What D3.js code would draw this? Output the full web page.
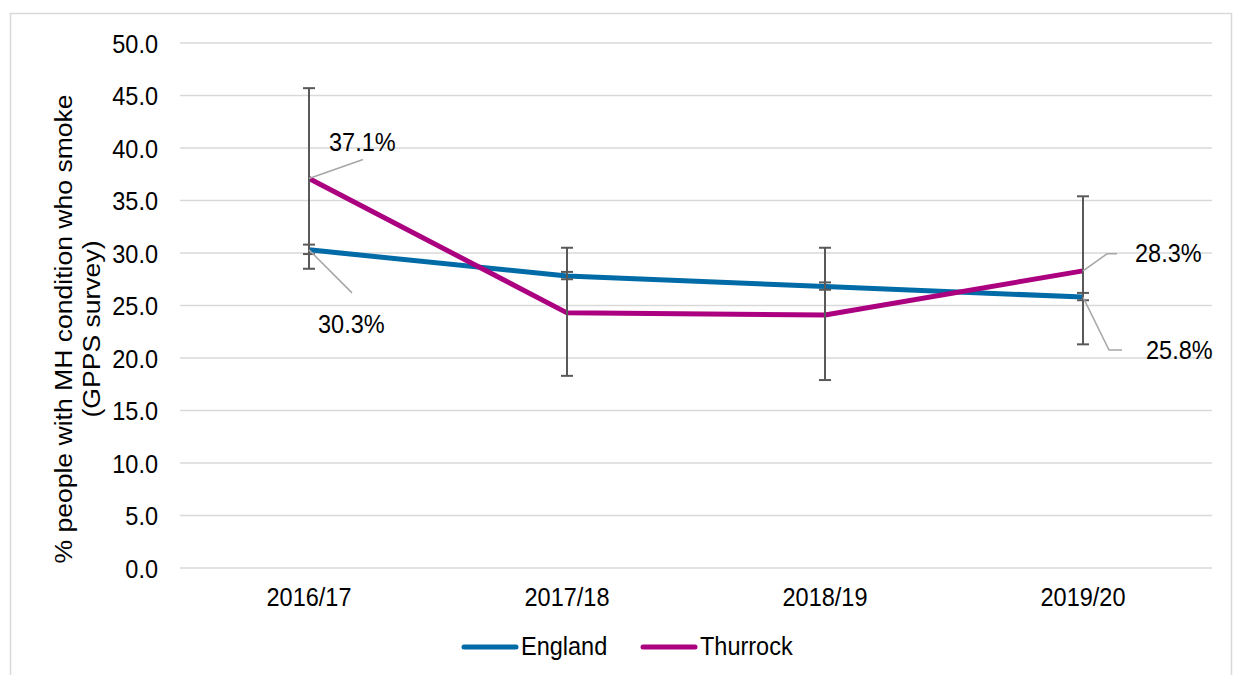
<!DOCTYPE html>
<html>
<head>
<meta charset="utf-8">
<script src="https://cdn.jsdelivr.net/npm/d3@7"></script>
<style>
  body { margin: 0; background: #fff; }
  text { font-family: "Liberation Sans", Arial, sans-serif; fill: #000; }
</style>
</head>
<body>
<div class="chart"></div>
<script>
var years = ["2016/17", "2017/18", "2018/19", "2019/20"];
var england = [30.3, 27.8, 26.8, 25.8];
var englandLow = [29.9, 27.5, 26.5, 25.5];
var englandHigh = [30.8, 28.2, 27.2, 26.2];
var thurrock = [37.1, 24.3, 24.1, 28.3];
var thurrockLow = [28.5, 18.3, 17.9, 21.3];
var thurrockHigh = [45.7, 30.5, 30.5, 35.4];
var yTicks = [0, 5, 10, 15, 20, 25, 30, 35, 40, 45, 50];

var svgWidth = 1234;
var svgHeight = 675;
var margin = { top: 43, right: 22, bottom: 107, left: 180 };
var width = svgWidth - margin.left - margin.right;
var height = svgHeight - margin.top - margin.bottom;
var fontSize = 23.5;
var stretch = 1.13; // text in the picture is a little taller than wide

var svg = d3.select(".chart")
  .append("svg")
  .attr("width", svgWidth)
  .attr("height", svgHeight);

// helper: text drawn at (x, y), stretched vertically
function label(parent, x, y, str, anchor) {
  return parent.append("text")
    .attr("transform", `translate(${x}, ${y}) scale(1, ${stretch})`)
    .attr("text-anchor", anchor || "start")
    .style("font-size", fontSize + "px")
    .text(str);
}

// outer frame
svg.append("rect")
  .attr("x", 10.5).attr("y", 13.5)
  .attr("width", 1221).attr("height", 680)
  .attr("fill", "none")
  .attr("stroke", "#d9d9d9")
  .attr("stroke-width", 1.5);

var chartGroup = svg.append("g")
  .attr("transform", `translate(${margin.left}, ${margin.top})`);

var xScale = d3.scaleBand().domain(years).range([0, width]);
var yScale = d3.scaleLinear().domain([0, 50]).range([height, 0]);
var xc = d => xScale(d) + xScale.bandwidth() / 2;

// gridlines
chartGroup.append("g")
  .selectAll("line")
  .data(yTicks)
  .enter()
  .append("line")
  .attr("x1", 0).attr("x2", width)
  .attr("y1", d => yScale(d)).attr("y2", d => yScale(d))
  .attr("stroke", "#d9d9d9")
  .attr("stroke-width", 1.5);

// y axis labels
var fmt = d3.format(".1f");
yTicks.forEach(function(t) {
  label(chartGroup, -22, yScale(t) + 9.5, fmt(t), "end");
});

// x axis labels
years.forEach(function(y) {
  label(chartGroup, xc(y), height + 38, y, "middle");
});

// y axis title
var title = svg.append("text")
  .attr("transform", `translate(86, 329) rotate(-90) scale(${stretch}, 1)`)
  .attr("text-anchor", "middle")
  .style("font-size", fontSize + "px");
title.append("tspan").attr("x", 0).attr("y", -14).text("% people with MH condition who smoke");
title.append("tspan").attr("x", 0).attr("y", 14).text("(GPPS survey)");

// lines
var line = d3.line().x((d, i) => xc(years[i])).y(d => yScale(d));

chartGroup.append("path").datum(england)
  .attr("d", line).attr("fill", "none")
  .attr("stroke", "#006ba6").attr("stroke-width", 5)
  .attr("stroke-linejoin", "round");

chartGroup.append("path").datum(thurrock)
  .attr("d", line).attr("fill", "none")
  .attr("stroke", "#ab007f").attr("stroke-width", 5)
  .attr("stroke-linejoin", "round");

// error bars
function errorBars(low, high) {
  var g = chartGroup.append("g").attr("stroke", "#595959").attr("stroke-width", 2);
  years.forEach(function(y, i) {
    var x = xc(y);
    g.append("line").attr("x1", x).attr("x2", x).attr("y1", yScale(low[i])).attr("y2", yScale(high[i]));
    g.append("line").attr("x1", x - 6).attr("x2", x + 6).attr("y1", yScale(low[i])).attr("y2", yScale(low[i]));
    g.append("line").attr("x1", x - 6).attr("x2", x + 6).attr("y1", yScale(high[i])).attr("y2", yScale(high[i]));
  });
}
errorBars(thurrockLow, thurrockHigh);
errorBars(englandLow, englandHigh);

// data labels with leader lines
var labels = [
  { i: 0, v: thurrock[0], pts: [[0, 0], [54, -19]], tx: 329, ty: 151 },
  { i: 0, v: england[0], pts: [[0, 0], [43, 43]], tx: 318, ty: 333 },
  { i: 3, v: thurrock[3], pts: [[0, 0], [24, -17], [34, -17]], tx: 1135, ty: 262 },
  { i: 3, v: england[3], pts: [[0, 0], [26, 53], [39, 53]], tx: 1146, ty: 359 }
];
labels.forEach(function(l) {
  var x0 = xc(years[l.i]), y0 = yScale(l.v);
  chartGroup.append("polyline")
    .attr("points", l.pts.map(p => (x0 + p[0]) + "," + (y0 + p[1])).join(" "))
    .attr("fill", "none").attr("stroke", "#a6a6a6").attr("stroke-width", 1.5);
  label(svg, l.tx, l.ty, l.v.toFixed(1) + "%");
});

// legend
var legend = [
  { name: "England", color: "#006ba6", x: 462 },
  { name: "Thurrock", color: "#ab007f", x: 641 }
];
legend.forEach(function(d) {
  svg.append("line")
    .attr("x1", d.x + 2).attr("x2", d.x + 54)
    .attr("y1", 647).attr("y2", 647)
    .attr("stroke", d.color).attr("stroke-width", 5)
    .attr("stroke-linecap", "round");
  label(svg, d.x + 59, 655, d.name);
});
</script>
</body>
</html>
